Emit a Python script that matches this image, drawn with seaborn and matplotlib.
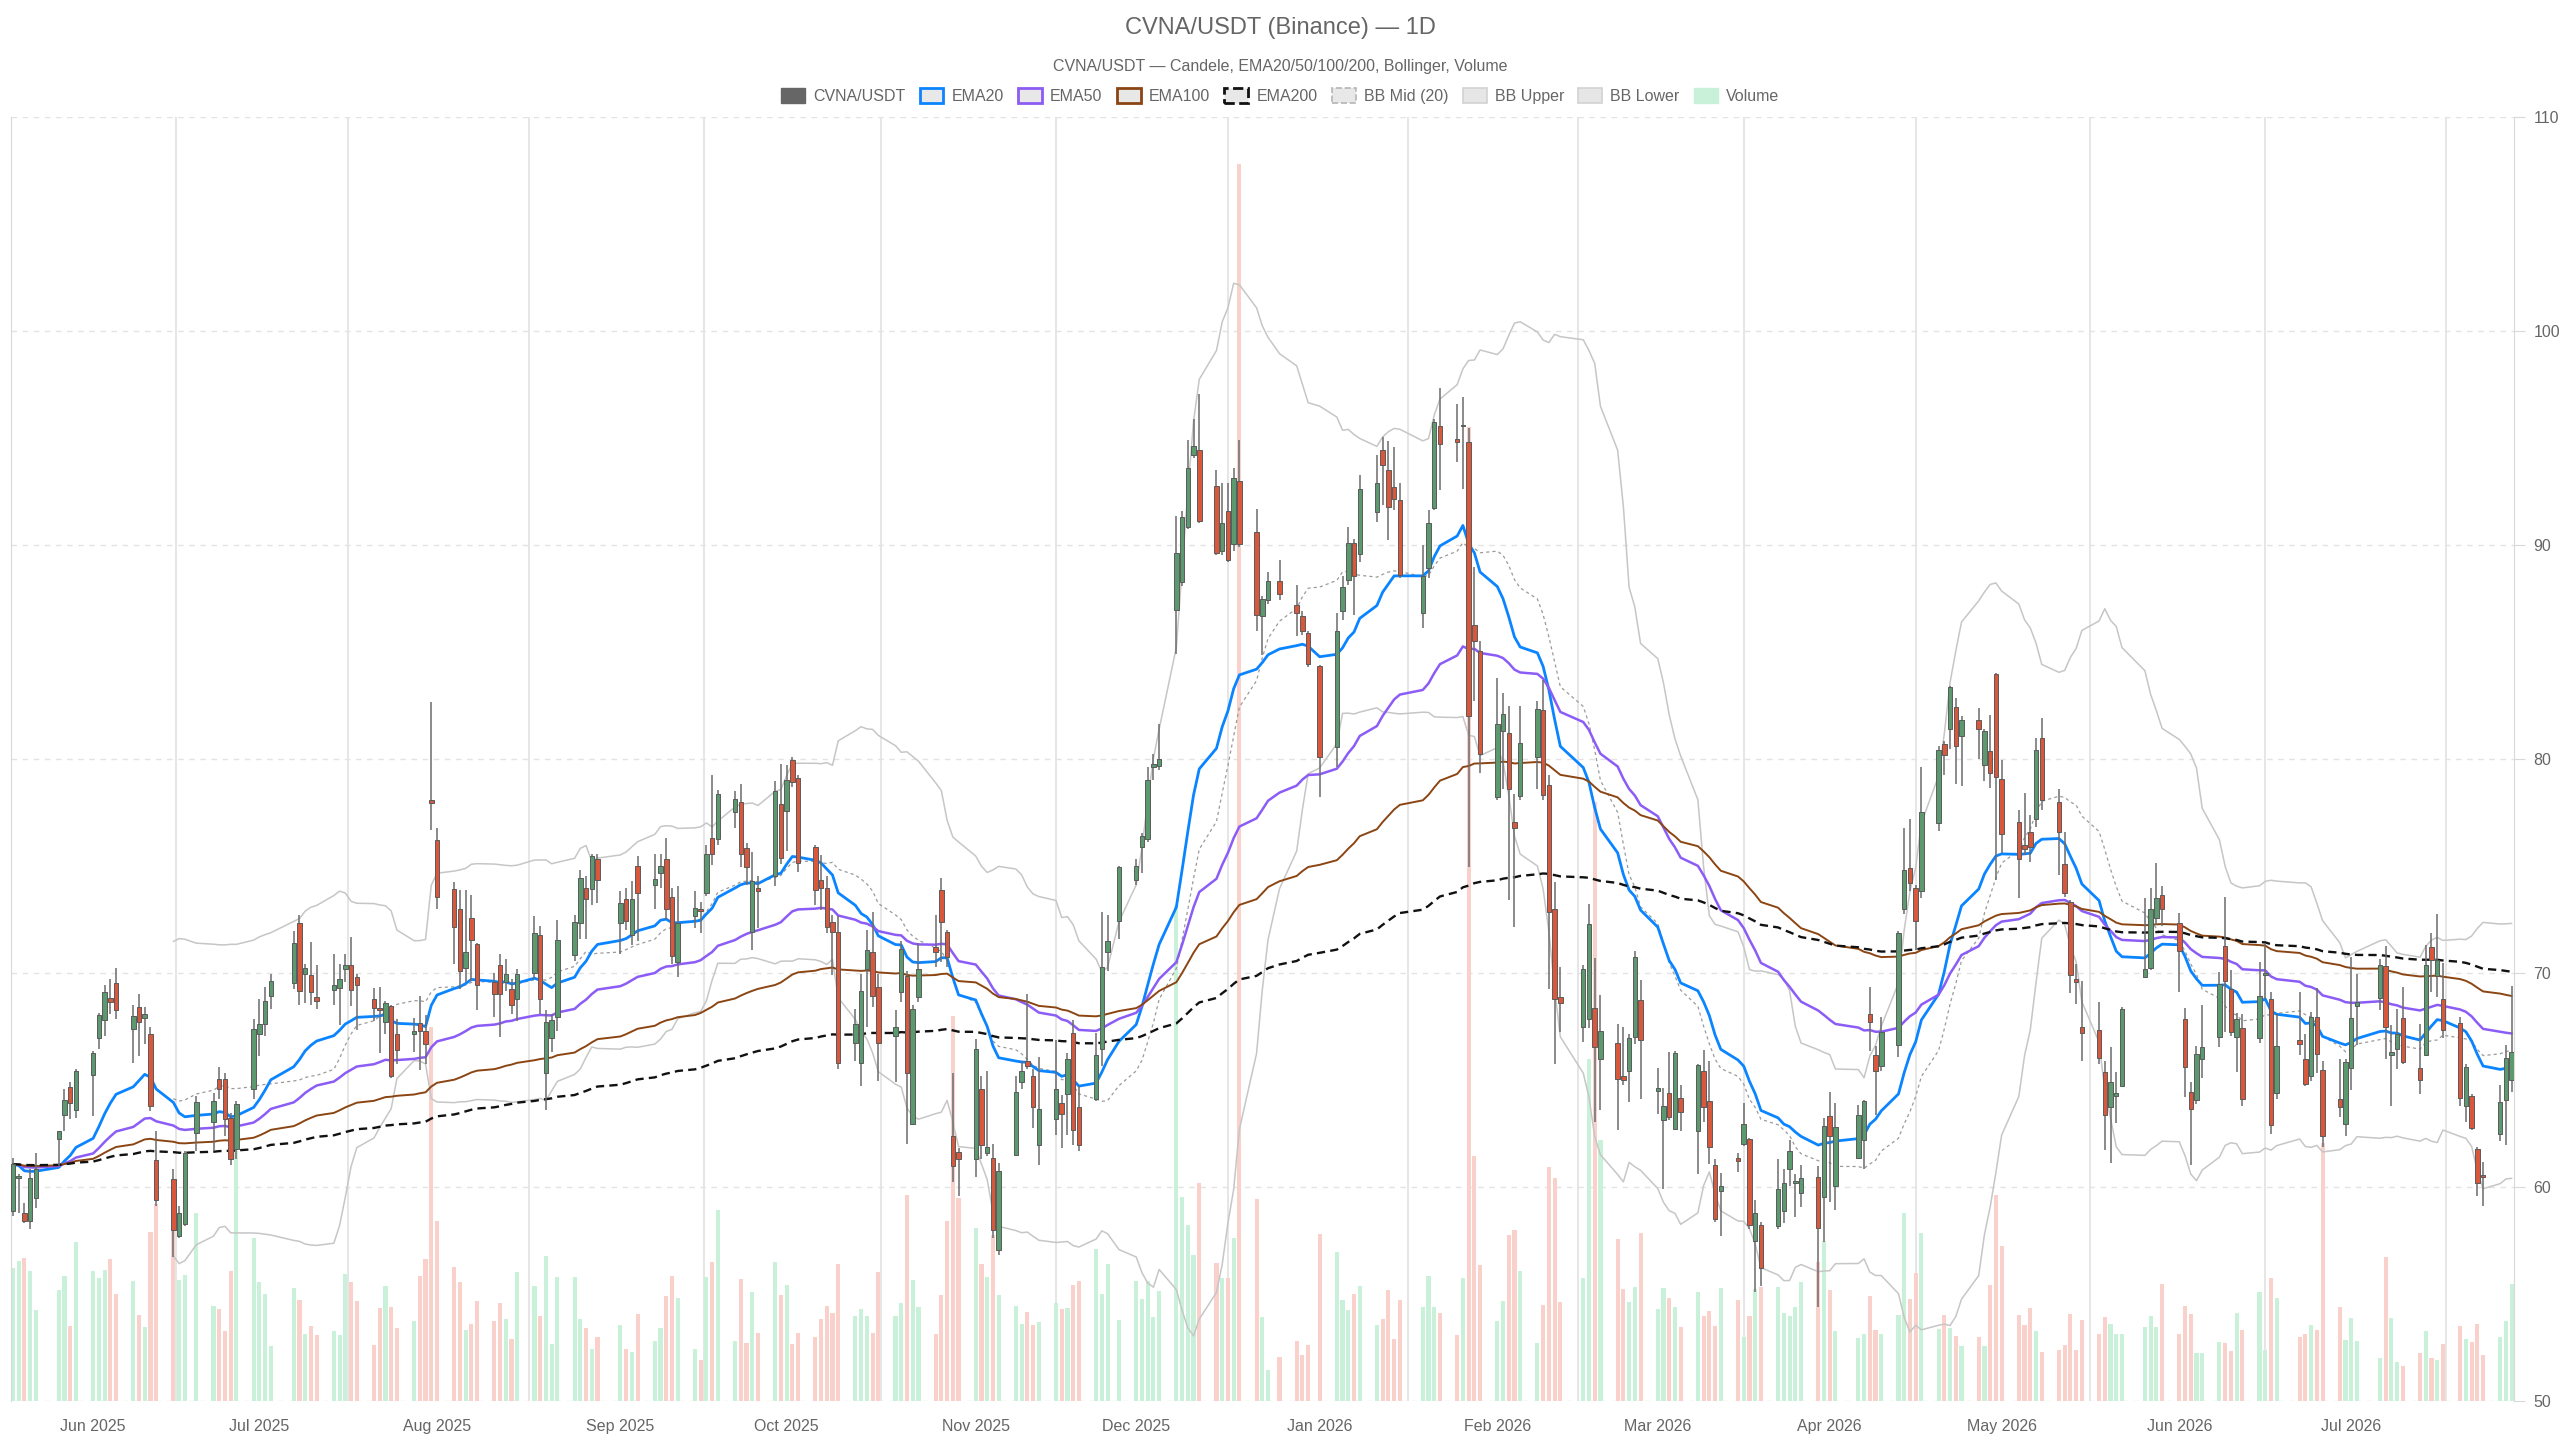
"""
CVNA/USDT daily chart: candles, EMA20/50/100/200, Bollinger (20) and volume.
"""
import numpy as np
import pandas as pd
import seaborn as sns
import matplotlib
matplotlib.use("Agg")
import matplotlib.pyplot as plt
import matplotlib.dates as mdates
from matplotlib.patches import Patch
from matplotlib.ticker import FixedLocator

START, END = "2025-05-19", "2026-07-29"
HOLIDAYS = ["2025-05-26", "2025-06-19", "2025-07-04", "2025-09-01", "2025-11-27",
            "2025-12-25", "2026-01-01", "2026-01-19", "2026-02-16", "2026-04-03",
            "2026-05-25", "2026-06-19", "2026-07-03"]

opens = [
    58.88, 60.40, 58.80, 58.41, 59.50, 62.26, 63.36, 64.69, 63.60,
    65.23, 66.98, 67.79, 68.82, 69.55, 67.37, 68.43, 67.88, 67.13, 61.26,
    60.39, 57.71, 58.26, 62.54, 63.04, 65.03, 65.03, 63.24, 61.76,
    64.60, 67.13, 67.61, 68.91, 69.52, 72.35, 69.96, 69.89, 68.87,
    69.20, 69.30, 70.17, 70.39, 69.83, 68.80, 68.35, 67.72, 68.48, 67.17,
    67.13, 67.65, 67.28, 78.10, 76.20, 73.91, 73.00, 70.22, 72.57, 71.35,
    69.57, 70.39, 69.57, 69.26, 68.80, 70.00, 71.79, 65.35, 66.95, 67.95,
    70.86, 72.33, 73.99, 73.93, 75.32, 72.33, 73.45, 71.79, 75.02,
    74.13, 74.65, 75.32, 73.53, 70.50, 72.65, 73.00, 73.73, 76.32, 76.24,
    77.52, 77.98, 75.82, 71.93, 73.99, 74.53, 77.88, 77.58, 79.97, 79.11,
    75.88, 74.33, 73.99, 72.39, 71.93, 66.71, 65.81, 70.20, 71.00, 69.34,
    67.07, 69.10, 69.86, 62.96, 68.90, 71.20, 73.89, 71.93, 62.36, 61.63,
    61.29, 64.56, 61.57, 61.37, 57.04, 61.49, 64.90, 65.90, 65.20, 61.97,
    63.20, 63.91, 64.34, 67.19, 63.72, 64.12, 66.43, 70.97, 72.41,
    74.35, 75.88, 76.25, 79.63, 79.69, 86.94, 88.29, 90.84, 94.21, 94.43,
    92.77, 89.70, 91.60, 90.07, 92.98, 90.60, 86.69, 87.44, 88.33,
    87.21, 86.68, 85.88, 84.33, 80.54, 86.90, 88.36, 90.09, 89.60,
    91.55, 94.43, 93.50, 92.70, 92.08, 86.81, 88.91, 91.71, 95.58,
    94.96, 95.55, 94.81, 86.28, 85.04, 78.22, 81.32, 81.22, 77.07, 78.26,
    80.11, 82.28, 78.80, 73.00, 68.87, 67.50, 67.83, 68.37, 65.98,
    66.74, 65.17, 65.43, 67.00, 68.74, 64.48, 63.15, 64.41, 62.72, 64.17,
    62.61, 65.43, 64.02, 61.04, 59.83, 61.35, 62.00, 62.22, 57.50, 58.22,
    58.19, 58.87, 60.86, 60.20, 59.73, 60.45, 59.55, 63.31, 60.07,
    61.36, 62.18, 68.07, 66.19, 65.67, 66.64, 72.99, 74.92, 73.97, 73.83,
    77.00, 80.70, 81.38, 82.45, 81.09, 81.84, 79.73, 80.36, 83.95, 79.05,
    77.07, 76.00, 76.60, 77.20, 81.00, 78.00, 75.08, 73.30, 69.73, 67.48,
    67.35, 65.39, 63.72, 64.23, 64.74, 69.81, 70.24, 72.57, 73.64,
    72.33, 67.86, 64.46, 64.06, 65.99, 67.01, 71.26, 69.27, 67.01, 67.43,
    66.96, 69.90, 68.80, 64.38, 66.88, 66.00, 65.21, 67.93, 65.46,
    64.09, 62.93, 65.55, 68.47, 68.83, 70.33, 66.16, 66.46, 67.88,
    65.55, 66.16, 71.22, 69.88, 68.80, 67.66, 63.80, 64.26, 61.76, 60.51,
    62.49, 64.05, 65.00,
]
highs = [
    61.37, 60.60, 59.27, 60.83, 61.57, 62.62, 64.60, 64.90, 65.53,
    66.36, 68.15, 69.42, 69.70, 70.25, 68.49, 69.00, 68.43, 67.48, 62.62,
    60.86, 59.11, 61.68, 64.25, 64.41, 65.60, 65.34, 63.47, 64.02,
    67.83, 68.77, 69.35, 69.96, 71.96, 72.72, 70.43, 71.46, 70.39,
    70.87, 70.43, 70.91, 71.70, 69.96, 69.30, 69.35, 68.70, 68.50, 67.83,
    67.89, 68.91, 68.04, 82.65, 76.78, 74.24, 73.87, 73.87, 73.65, 71.41,
    70.00, 70.87, 70.65, 69.70, 70.20, 72.65, 72.19, 68.26, 68.10, 72.49,
    72.69, 74.79, 74.53, 75.58, 75.58, 73.85, 73.99, 74.29, 75.48,
    75.58, 75.58, 76.32, 73.99, 74.05, 73.85, 73.33, 75.98, 79.27, 78.57,
    78.51, 78.83, 76.08, 75.64, 74.53, 78.97, 79.77, 79.71, 80.11, 79.27,
    75.98, 75.52, 74.53, 72.69, 72.65, 68.30, 69.94, 72.00, 72.85, 69.94,
    68.26, 71.50, 70.10, 68.50, 71.40, 72.69, 74.45, 71.99, 65.31, 61.82,
    66.91, 65.21, 65.41, 62.02, 61.13, 65.21, 65.87, 69.04, 65.50, 66.06,
    66.89, 64.28, 66.27, 67.81, 64.74, 67.19, 72.87, 72.72, 75.02,
    75.33, 76.56, 79.63, 80.24, 81.62, 91.36, 91.60, 94.92, 95.90, 97.07,
    93.51, 92.89, 92.89, 93.60, 94.92, 91.70, 87.63, 88.72, 89.30,
    88.14, 86.90, 85.97, 84.40, 86.81, 88.54, 90.84, 90.30, 93.26,
    94.19, 95.05, 94.87, 94.56, 92.88, 90.00, 91.64, 95.89, 97.35,
    96.60, 96.91, 95.49, 88.98, 85.50, 83.80, 83.08, 82.46, 78.37, 82.50,
    82.72, 83.70, 79.24, 74.24, 70.26, 70.39, 73.22, 70.70, 68.96,
    67.61, 67.50, 67.13, 71.04, 69.67, 65.54, 64.61, 66.30, 66.35, 64.78,
    65.76, 66.41, 65.87, 61.30, 60.65, 61.57, 63.91, 62.28, 59.39, 58.37,
    61.32, 60.82, 62.18, 60.59, 61.04, 60.97, 63.24, 64.44, 63.92,
    63.81, 64.08, 69.36, 66.58, 67.94, 71.97, 76.78, 77.19, 74.13, 79.64,
    80.59, 80.86, 83.42, 82.86, 82.00, 82.40, 81.38, 82.06, 84.00, 79.95,
    77.60, 78.40, 77.40, 81.00, 81.90, 78.60, 76.60, 73.40, 70.41, 69.61,
    68.66, 65.90, 66.55, 65.39, 68.42, 73.52, 73.98, 75.12, 74.06,
    72.79, 68.37, 64.91, 66.58, 68.49, 70.07, 73.55, 70.15, 68.15, 68.08,
    70.53, 71.40, 69.13, 68.10, 69.13, 67.16, 68.16, 69.30, 65.88,
    66.00, 65.96, 70.77, 69.97, 70.67, 71.27, 67.55, 68.33, 69.33,
    67.60, 71.30, 71.88, 72.77, 70.47, 67.96, 65.76, 64.33, 61.88, 61.16,
    64.76, 66.63, 69.38,
]
lows = [
    58.64, 58.80, 58.33, 58.02, 59.03, 61.00, 62.62, 63.16, 63.24,
    63.32, 66.46, 67.06, 68.07, 67.84, 65.80, 66.12, 66.67, 63.55, 59.11,
    56.74, 57.63, 58.18, 61.68, 61.68, 64.10, 62.38, 61.01, 61.29,
    64.10, 66.12, 67.07, 68.30, 69.24, 68.52, 68.59, 68.52, 68.30,
    68.52, 67.57, 69.57, 68.48, 67.35, 67.76, 66.26, 67.17, 65.10, 65.76,
    66.30, 65.48, 65.76, 76.70, 73.00, 70.43, 69.24, 69.57, 69.61, 68.26,
    67.93, 67.00, 69.17, 68.10, 67.75, 69.70, 68.10, 63.62, 66.31, 67.31,
    70.54, 71.60, 71.60, 73.19, 73.25, 70.90, 72.00, 71.30, 71.50,
    73.00, 73.99, 72.49, 70.40, 69.80, 72.10, 71.85, 73.59, 75.04, 75.98,
    76.78, 74.93, 74.09, 71.06, 72.10, 74.05, 75.08, 75.68, 78.71, 74.73,
    73.19, 72.93, 71.85, 69.90, 65.51, 65.91, 64.72, 67.50, 68.40, 64.95,
    64.92, 68.66, 62.02, 62.92, 68.66, 70.30, 70.50, 70.30, 60.23, 59.57,
    60.49, 61.29, 61.43, 57.64, 56.84, 61.43, 64.58, 65.50, 62.74, 61.05,
    62.43, 61.82, 62.43, 61.97, 61.67, 64.03, 65.66, 70.11, 71.58,
    74.10, 74.65, 76.10, 79.01, 79.47, 84.91, 88.07, 90.74, 94.06, 91.05,
    89.52, 89.52, 89.21, 89.70, 89.91, 86.00, 84.85, 87.25, 87.44,
    85.77, 85.81, 84.30, 78.22, 79.61, 86.50, 88.14, 86.74, 89.22,
    91.08, 91.86, 90.22, 91.64, 88.45, 86.12, 88.45, 91.64, 92.57,
    93.88, 92.64, 74.96, 82.71, 79.36, 78.10, 78.62, 73.41, 72.17, 78.09,
    78.59, 78.10, 69.24, 65.76, 67.22, 66.78, 67.43, 63.04, 63.59,
    62.65, 64.78, 63.96, 66.70, 64.13, 63.43, 59.89, 63.15, 62.65, 62.61,
    60.61, 63.04, 61.09, 58.37, 57.72, 60.70, 61.91, 58.04, 55.11, 55.39,
    58.03, 58.32, 60.07, 58.59, 59.05, 54.40, 57.41, 59.32, 58.93,
    61.32, 60.82, 66.35, 63.36, 65.40, 66.08, 72.77, 73.83, 71.07, 73.51,
    76.62, 79.27, 80.48, 78.82, 78.73, 80.02, 78.96, 78.66, 74.35, 75.60,
    73.51, 75.50, 75.20, 76.80, 77.60, 74.60, 73.55, 69.05, 68.54, 65.90,
    65.77, 61.73, 61.14, 62.98, 64.71, 69.81, 70.12, 72.23, 72.19,
    69.13, 64.20, 61.05, 63.89, 65.09, 66.55, 67.23, 67.06, 65.36, 63.78,
    66.75, 68.80, 62.46, 64.13, 66.16, 64.71, 64.93, 65.33, 61.88,
    63.26, 62.38, 64.55, 66.63, 68.27, 66.00, 63.79, 65.50, 65.76,
    64.33, 66.10, 69.10, 68.88, 66.96, 63.79, 63.04, 62.66, 59.59, 59.12,
    62.16, 61.96, 64.43,
]
closes = [
    61.06, 60.50, 58.40, 60.44, 60.83, 62.60, 64.07, 63.94, 65.42,
    66.28, 68.02, 69.11, 68.66, 68.27, 67.99, 67.71, 68.07, 63.79, 59.39,
    57.99, 58.80, 61.57, 63.97, 64.02, 64.56, 63.16, 61.29, 63.86,
    67.37, 67.60, 68.70, 69.61, 71.41, 69.17, 70.22, 69.09, 68.70,
    69.46, 69.72, 70.39, 69.20, 69.46, 68.37, 68.25, 68.59, 65.17, 66.39,
    67.28, 67.28, 66.70, 77.95, 73.54, 72.13, 70.11, 70.98, 71.52, 69.46,
    69.02, 69.02, 69.96, 68.50, 69.94, 71.85, 68.80, 67.70, 67.80, 71.54,
    72.39, 74.45, 73.45, 75.48, 74.33, 73.29, 72.45, 73.45, 73.75,
    74.39, 74.98, 72.99, 70.80, 72.33, 73.03, 72.90, 75.58, 75.58, 78.37,
    78.12, 75.58, 74.93, 74.29, 73.85, 78.51, 75.38, 79.03, 78.91, 75.12,
    73.89, 73.99, 72.13, 71.93, 65.81, 67.61, 69.14, 71.06, 68.94, 66.71,
    67.47, 71.14, 65.35, 68.34, 70.20, 71.00, 72.39, 70.74, 60.97, 61.29,
    66.47, 61.96, 61.88, 57.98, 60.77, 64.43, 65.44, 65.66, 63.72, 63.66,
    64.58, 63.42, 65.97, 62.68, 61.97, 66.18, 70.26, 71.49, 74.96,
    75.02, 76.41, 79.01, 79.78, 80.00, 89.61, 91.30, 93.60, 94.61, 91.14,
    89.61, 91.05, 89.30, 93.14, 90.07, 86.75, 87.46, 88.30, 87.72,
    86.80, 85.97, 84.42, 80.08, 85.97, 88.05, 90.09, 88.54, 92.64,
    92.88, 93.72, 91.77, 92.17, 88.60, 88.54, 91.02, 95.74, 94.74,
    94.81, 95.60, 82.03, 85.50, 80.23, 81.63, 82.09, 78.62, 76.76, 80.76,
    82.35, 78.30, 72.83, 68.80, 68.59, 70.17, 72.28, 66.52, 67.28,
    65.04, 65.00, 66.96, 70.76, 66.85, 64.61, 63.80, 63.26, 66.26, 63.52,
    65.70, 63.74, 61.89, 58.52, 60.04, 61.20, 62.93, 58.22, 58.80, 56.20,
    59.91, 60.18, 61.66, 60.22, 60.41, 58.10, 62.86, 62.40, 62.79,
    63.36, 64.04, 67.71, 65.40, 67.26, 71.86, 74.80, 74.20, 72.43, 77.53,
    80.41, 80.18, 83.36, 80.63, 81.84, 81.38, 81.32, 79.34, 79.18, 76.51,
    75.33, 75.78, 75.90, 80.40, 78.10, 76.60, 73.72, 69.90, 69.56, 67.18,
    66.04, 63.35, 64.91, 64.40, 68.32, 70.19, 73.01, 73.52, 73.01,
    71.04, 65.60, 63.66, 66.21, 66.55, 69.47, 69.64, 67.26, 67.86, 64.12,
    68.93, 70.00, 62.88, 66.60, 66.66, 64.83, 67.93, 66.21, 62.38,
    63.76, 65.83, 67.88, 68.63, 70.38, 67.50, 66.33, 67.16, 65.83,
    65.00, 70.38, 70.60, 70.63, 67.33, 64.16, 65.60, 62.76, 60.21, 60.49,
    63.99, 66.05, 66.30,
]
# volume in thousands
volumes = [
    623, 654, 670, 607, 424, 517, 583, 349, 743,
    606, 575, 612, 662, 498, 559, 400, 346, 790, 919,
    800, 564, 587, 880, 444, 431, 327, 607, 1250,
    760, 554, 500, 257, 526, 474, 315, 352, 309,
    326, 310, 593, 554, 467, 260, 435, 537, 439, 343,
    374, 583, 663, 1750, 841, 626, 554, 330, 359, 467,
    374, 457, 385, 291, 604, 538, 395, 678, 265, 578,
    578, 385, 341, 245, 301, 355, 241, 231, 405,
    279, 339, 491, 584, 479, 245, 191, 578, 650, 893,
    279, 570, 271, 510, 319, 650, 495, 544, 265, 319,
    299, 385, 445, 411, 638, 395, 429, 395, 319, 604,
    395, 459, 963, 564, 439, 315, 495, 843, 1800, 949,
    810, 638, 578, 774, 495, 445, 359, 414, 353, 368,
    460, 430, 436, 543, 562, 712, 500, 639, 378,
    559, 476, 562, 393, 516, 2320, 952, 823, 682, 1020,
    643, 574, 574, 760, 5780, 942, 391, 145, 206,
    280, 217, 264, 781, 698, 474, 425, 502, 536,
    357, 381, 518, 288, 471, 440, 583, 440, 409,
    310, 574, 4550, 1147, 636, 372, 465, 775, 797, 609,
    272, 450, 1093, 1043, 463, 576, 1598, 2800, 1220,
    757, 522, 463, 533, 783, 430, 526, 483, 439, 348,
    511, 396, 420, 352, 528, 474, 300, 398, 522, 533,
    535, 410, 395, 440, 558, 651, 750, 519, 327,
    293, 311, 490, 333, 315, 401, 878, 478, 599, 787,
    338, 401, 342, 304, 259, 297, 259, 542, 961, 723,
    401, 356, 434, 328, 230, 238, 264, 405, 238, 379,
    315, 391, 361, 311, 311, 345, 396, 344, 549,
    315, 446, 405, 224, 224, 276, 272, 235, 412, 332,
    510, 238, 573, 482, 299, 315, 357, 332, 1204,
    437, 287, 387, 279, 200, 674, 390, 182, 162,
    225, 325, 200, 192, 267, 350, 290, 275, 359, 215,
    299, 375, 549,
]

UP, DOWN = "#5b9a6e", "#d9583b"
VOL_UP, VOL_DOWN = "#c9f0d8", "#f9d0ca"
TXT = "#666666"
EMA_STYLE = {20: ("#0a84ff", 2.0, "-"), 50: ("#8b5cf6", 1.8, "-"),
             100: ("#8b4513", 1.4, "-"), 200: ("#111111", 1.7, (0, (3.5, 2.2)))}

sns.set_style("white")
plt.rcParams["font.family"] = ["Liberation Sans", "DejaVu Sans"]


def trading_days(start, end):
    days = pd.bdate_range(start, end)
    return days[~days.isin(pd.to_datetime(HOLIDAYS))]


def build_frame():
    df = pd.DataFrame({"date": trading_days(START, END), "open": opens, "high": highs,
                       "low": lows, "close": closes, "volume": volumes})
    for n in EMA_STYLE:
        df[f"ema{n}"] = df["close"].ewm(span=n, adjust=False).mean()
    mid = df["close"].rolling(20).mean()
    sd = df["close"].rolling(20).std(ddof=0)
    df["bb_mid"], df["bb_up"], df["bb_lo"] = mid, mid + 2 * sd, mid - 2 * sd
    return df


def plot_chart(out_file="out.png"):
    df = build_frame()
    up = (df["close"] >= df["open"]).to_numpy()

    fig = plt.figure(figsize=(25.6, 14.4), dpi=100)
    rect = [11 / 2560, 39 / 1440, 2503 / 2560, 1284 / 1440]
    ax_vol = fig.add_axes(rect)
    ax = fig.add_axes(rect, sharex=ax_vol)
    ax.set_zorder(2)
    ax.patch.set_visible(False)

    # volume (behind everything)
    ax_vol.bar(df["date"], df["volume"], width=0.72,
               color=np.where(up, VOL_UP, VOL_DOWN), linewidth=0)
    ax_vol.set_ylim(0, 6000)
    ax_vol.set_yticks(range(0, 6001, 1000))
    ax_vol.tick_params(axis="y", left=False, labelleft=False)
    ax_vol.yaxis.grid(True, color="#e3e3e3", linestyle=(0, (4, 4)), linewidth=1)

    # month ticks sit on the first trading day, grid lines halfway between them
    d0 = df["date"].iloc[0]
    ax_vol.set_xlim(d0 - pd.Timedelta(hours=8), d0 + pd.Timedelta(days=436.4))
    cal = trading_days("2025-05-01", "2026-08-31")
    firsts = pd.DatetimeIndex([cal[cal >= m][0] for m in
                               pd.date_range("2025-05-01", "2026-08-01", freq="MS")])
    mids = firsts[:-1] + (firsts[1:] - firsts[:-1]) / 2
    ax_vol.xaxis.set_major_locator(FixedLocator(mdates.date2num(firsts)))
    ax_vol.xaxis.set_major_formatter(mdates.DateFormatter("%b %Y"))
    ax_vol.xaxis.set_minor_locator(FixedLocator(mdates.date2num(mids)))
    ax_vol.xaxis.grid(True, which="minor", color="#e2e2e2", linewidth=1.2)
    ax_vol.tick_params(axis="x", which="both", length=0, pad=13,
                       labelsize=11.5, labelcolor=TXT)
    for s in ax_vol.spines.values():
        s.set_visible(False)

    # bollinger + emas
    bb = df.dropna(subset=["bb_mid"])
    sns.lineplot(data=bb, x="date", y="bb_up", ax=ax, color="#c6c6c6", linewidth=1.1, zorder=2)
    sns.lineplot(data=bb, x="date", y="bb_lo", ax=ax, color="#c6c6c6", linewidth=1.1, zorder=2)
    sns.lineplot(data=bb, x="date", y="bb_mid", ax=ax, color="#9a9a9a", linewidth=0.9,
                 linestyle=(0, (2.5, 2.5)), zorder=2)
    for n, (col, lw, ls) in EMA_STYLE.items():
        sns.lineplot(data=df, x="date", y=f"ema{n}", ax=ax, color=col,
                     linewidth=lw, linestyle=ls, zorder=2)

    # candles
    body_lo = np.minimum(df["open"], df["close"])
    body_h = np.maximum(np.abs(df["close"] - df["open"]), 0.08)
    ax.vlines(df["date"], df["low"], df["high"], color="#6b6b6b", linewidth=1.1, zorder=3)
    ax.bar(df["date"], body_h, bottom=body_lo, width=0.78,
           color=np.where(up, UP, DOWN), edgecolor="#5a5a5a", linewidth=0.7, zorder=4)

    ax.set_ylim(50, 110)
    ax.yaxis.tick_right()
    ax.set_yticks(range(50, 111, 10))
    ax.tick_params(axis="y", length=8, color="#d8d8d8", labelsize=11.5,
                   labelcolor=TXT, pad=6)
    ax.tick_params(axis="x", which="both", bottom=False, labelbottom=False)
    ax.set_xlabel("")
    ax.set_ylabel("")
    for side in ("top", "bottom"):
        ax.spines[side].set_visible(False)
    for side in ("left", "right"):
        ax.spines[side].set_color("#d9d9d9")

    fig.text(0.5, 1 - 28 / 1440, "CVNA/USDT (Binance) — 1D", ha="center", va="center",
             fontsize=17, color=TXT)
    fig.text(0.5, 1 - 66 / 1440, "CVNA/USDT — Candele, EMA20/50/100/200, Bollinger, Volume",
             ha="center", va="center", fontsize=11.5, color=TXT)

    handles = [
        Patch(facecolor="#666666", edgecolor="#666666", label="CVNA/USDT"),
        Patch(facecolor="#e8e8e8", edgecolor="#0a84ff", linewidth=2, label="EMA20"),
        Patch(facecolor="#e8e8e8", edgecolor="#8b5cf6", linewidth=2, label="EMA50"),
        Patch(facecolor="#e8e8e8", edgecolor="#8b4513", linewidth=2, label="EMA100"),
        Patch(facecolor="#e8e8e8", edgecolor="#111111", linewidth=2, linestyle="--", label="EMA200"),
        Patch(facecolor="#e8e8e8", edgecolor="#b5b5b5", linewidth=1.2, linestyle="--", label="BB Mid (20)"),
        Patch(facecolor="#e6e6e6", edgecolor="#d2d2d2", linewidth=1.2, label="BB Upper"),
        Patch(facecolor="#e6e6e6", edgecolor="#d2d2d2", linewidth=1.2, label="BB Lower"),
        Patch(facecolor=VOL_UP, edgecolor=VOL_UP, label="Volume"),
    ]
    fig.legend(handles=handles, loc="center", bbox_to_anchor=(0.5, 1 - 96 / 1440), ncol=9,
               frameon=False, fontsize=11.5, handlelength=1.5, handleheight=1.05,
               handletextpad=0.5, columnspacing=0.9, labelcolor=TXT)

    fig.savefig(out_file, dpi=100)
    print("Saved chart to", out_file)


if __name__ == "__main__":
    plot_chart()
